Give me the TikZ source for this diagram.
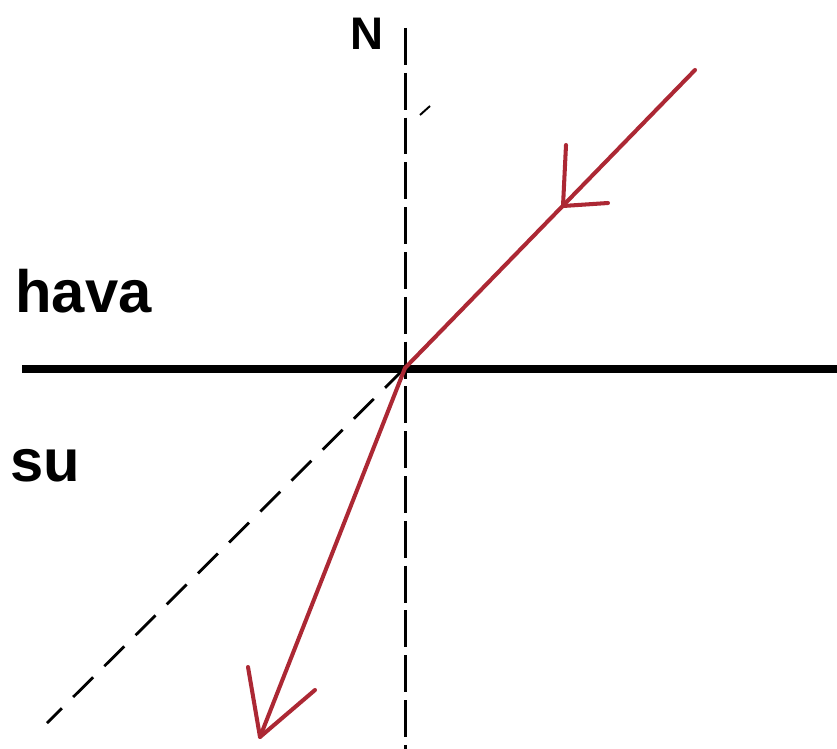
\documentclass[tikz,border=0pt]{standalone}
\usepackage{fontspec}
\setmainfont{Liberation Sans}

\begin{document}
\begin{tikzpicture}[x=0.02cm,y=-0.02cm,
  ray/.style={line width=2.3pt,rayred,line cap=round,line join=round},
  helper/.style={line width=1.6pt,black,dash pattern=on 16pt off 9pt},
  label/.style={font=\bfseries\fontsize{34}{34}\selectfont,inner sep=0pt,anchor=base west}]

\definecolor{rayred}{RGB}{172,40,52};

\useasboundingbox (0,0) rectangle (837,749);

\coordinate (O)    at (405,368);
\coordinate (src)  at (695,70);
\coordinate (top)  at (405,28);
\coordinate (bot)  at (405,749);
\coordinate (ext)  at (47,723);
\coordinate (tip1) at (563,206);
\coordinate (tip2) at (260,737);

% boundary
\coordinate (left)  at (22,369);
\coordinate (right) at (837,369);
\draw[line width=5pt] (left) -- (right);

% normal and extension of the incident ray
\draw[line width=1.7pt,dash pattern=on 21pt off 4.5pt] (top) -- (bot);
\draw[helper] (O) -- (ext);
\draw[line width=1.1pt] (420,115) -- (430,106);

% rays
\draw[ray] (src) -- (O);
\draw[ray] (O) -- (tip2);

% arrow heads
\draw[ray] (tip1) ++(3,-61) -- (tip1) -- ++(45,-3);
\draw[ray] (tip2) ++(-12,-70) -- (tip2) -- ++(55,-47);

\node[label] (N)    at (350,50)  {\fontsize{26}{26}\selectfont N};
\node[label] (hava) at (15,313)  {hava};
\node[label] (su)   at (10,481)  {su};
\end{tikzpicture}
\end{document}
